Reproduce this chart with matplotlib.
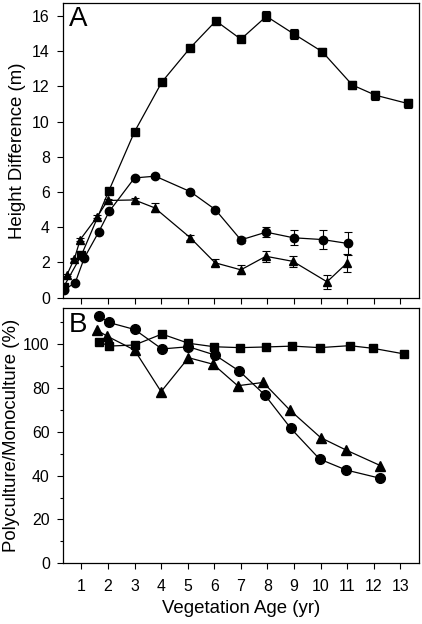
import numpy as np
import matplotlib
matplotlib.use("Agg")
import matplotlib.pyplot as plt
from matplotlib.ticker import MultipleLocator

plt.rcParams['font.family'] = ['Liberation Sans', 'DejaVu Sans']

# panel A: height difference (m)
a_sq_x = [0.33, 1.0, 2.03, 3.0, 4.03, 5.1, 6.06, 7.0, 7.96, 8.99, 10.06, 11.19, 12.06, 13.27]
a_sq_y = [0.6, 2.4, 6.05, 9.42, 12.25, 14.2, 15.72, 14.68, 15.98, 14.98, 13.97, 12.08, 11.5, 11.03]
a_sq_e = [0.08, 0.1, 0.12, 0.12, 0.12, 0.12, 0.12, 0.18, 0.28, 0.3, 0.2, 0.25, 0.25, 0.25]

a_ci_x = [0.33, 0.77, 1.11, 1.65, 2.05, 3.0, 3.78, 5.1, 6.04, 7.0, 7.95, 8.98, 10.07, 11.01]
a_ci_y = [0.42, 0.85, 2.25, 3.72, 4.9, 6.8, 6.9, 6.02, 5.0, 3.28, 3.72, 3.4, 3.3, 3.08]
a_ci_e = [0.05, 0.05, 0.08, 0.08, 0.1, 0.1, 0.12, 0.1, 0.12, 0.15, 0.3, 0.42, 0.55, 0.65]

a_tr_x = [0.46, 0.74, 0.96, 1.6, 1.99, 3.0, 3.76, 5.1, 6.03, 7.0, 7.94, 8.96, 10.24, 11.0]
a_tr_y = [1.3, 2.22, 3.3, 4.6, 5.52, 5.55, 5.1, 3.4, 1.98, 1.58, 2.35, 2.06, 0.9, 1.98]
a_tr_e = [0.05, 0.05, 0.08, 0.08, 0.08, 0.1, 0.25, 0.15, 0.2, 0.25, 0.3, 0.32, 0.4, 0.5]

# panel B: polyculture/monoculture (%)
b_sq_x = [1.68, 2.03, 3.0, 4.03, 5.03, 6.0, 6.96, 7.93, 8.94, 9.96, 11.09, 11.96, 13.15]
b_sq_y = [101.2, 99.2, 99.7, 104.7, 100.5, 98.9, 98.5, 98.8, 99.2, 98.5, 99.4, 98.2, 95.6]

b_ci_x = [1.65, 2.03, 3.0, 4.03, 5.03, 6.03, 6.94, 7.9, 8.88, 9.96, 10.96, 12.25]
b_ci_y = [113.1, 110.0, 106.8, 97.9, 98.9, 95.1, 87.8, 76.9, 61.6, 47.6, 42.6, 38.8]

b_tr_x = [1.59, 1.96, 3.0, 4.0, 5.03, 5.96, 6.88, 7.84, 8.84, 10.0, 10.96, 12.25]
b_tr_y = [106.5, 103.8, 97.4, 78.4, 93.9, 90.9, 81.1, 82.6, 70.0, 57.4, 51.7, 44.6]

ages = list(range(1, 14))

fig = plt.figure(figsize=(4.22, 6.24), dpi=100)
axA = fig.add_axes([0.1486, 0.523, 0.8444, 0.472])
axB = fig.add_axes([0.1486, 0.0973, 0.8444, 0.4091])

lw = 0.9
eb = dict(color='black', lw=lw, capsize=3, elinewidth=0.8, capthick=0.8)
axA.errorbar(a_sq_x, a_sq_y, yerr=a_sq_e, marker='s', ms=5.5, **eb)
axA.errorbar(a_ci_x, a_ci_y, yerr=a_ci_e, marker='o', ms=6, **eb)
axA.errorbar(a_tr_x, a_tr_y, yerr=a_tr_e, marker='^', ms=6, **eb)

axB.plot(b_sq_x, b_sq_y, marker='s', ms=6, color='black', lw=lw)
axB.plot(b_ci_x, b_ci_y, marker='o', ms=7, color='black', lw=lw)
axB.plot(b_tr_x, b_tr_y, marker='^', ms=7, color='black', lw=lw)

for ax in (axA, axB):
    ax.set_xlim(0.3, 13.7)
    ax.set_xticks(ages)
    ax.tick_params(direction='out', length=4.3, width=0.8, pad=5, labelsize=11.4, colors='black')
    ax.tick_params(axis='x', pad=7)
    ax.tick_params(which='minor', direction='out', length=2.5, width=0.8)
    for s in ax.spines.values():
        s.set_linewidth(0.9)

axA.set_ylim(0, 16.73)
axA.set_yticks(range(0, 17, 2))
axA.set_xticklabels([])
axA.set_ylabel('Height Difference (m)', fontsize=13.4, labelpad=4)
axA.text(0.018, 0.99, 'A', transform=axA.transAxes, fontsize=20, va='top', ha='left')

axB.set_ylim(0, 116.6)
axB.set_yticks(range(0, 101, 20))
axB.yaxis.set_minor_locator(MultipleLocator(10))
axB.set_xticklabels([str(a) for a in ages])
axB.set_ylabel('Polyculture/Monoculture (%)', fontsize=13.4, labelpad=2)
axB.set_xlabel('Vegetation Age (yr)', fontsize=13.4, labelpad=4)
axB.text(0.018, 0.985, 'B', transform=axB.transAxes, fontsize=20, va='top', ha='left')

fig.savefig('out.png', dpi=100)
